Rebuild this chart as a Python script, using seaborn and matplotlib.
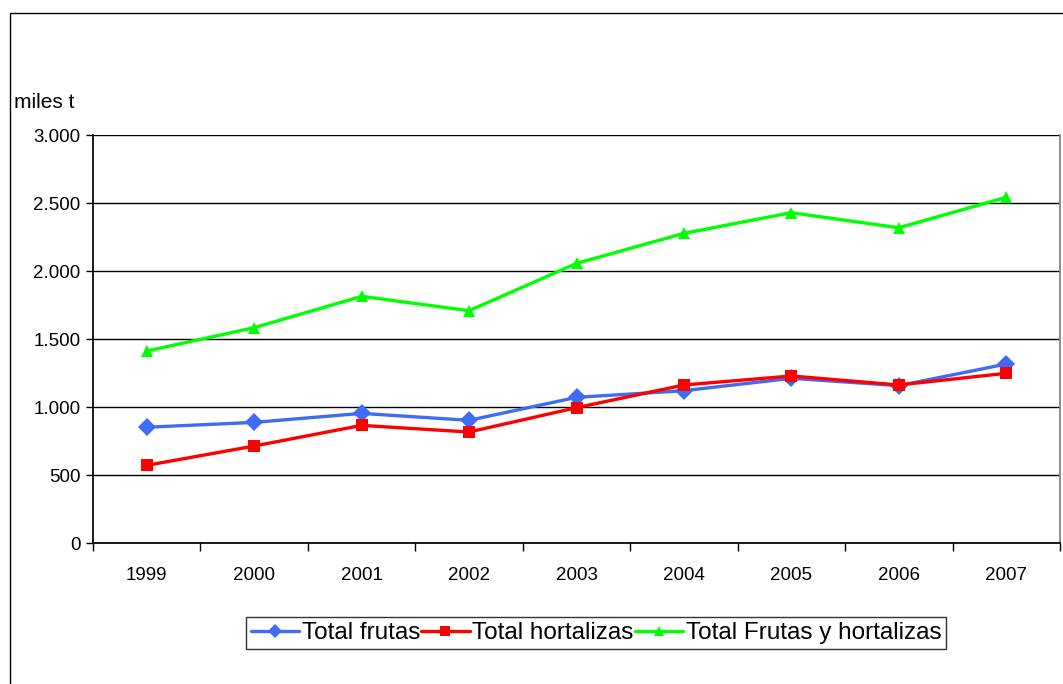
# Fruit and vegetable totals, 1999-2007 (miles t)
import numpy as np
import pandas as pd
import seaborn as sns
import matplotlib.pyplot as plt
from matplotlib.patches import Rectangle
from matplotlib.ticker import FuncFormatter

# Data
years = ["1999", "2000", "2001", "2002", "2003", "2004", "2005", "2006", "2007"]
total_frutas = [851, 887, 953, 902, 1071, 1120, 1211, 1157, 1316]
total_hortalizas = [571, 713, 865, 816, 995, 1162, 1228, 1162, 1248]
total_ambos = [1412, 1583, 1814, 1708, 2056, 2277, 2429, 2318, 2542]
series_names = ["Total frutas", "Total hortalizas", "Total Frutas y hortalizas"]

# Long dataframe for seaborn
df = pd.DataFrame({
    "pos": list(range(len(years))) * 3,
    "valor": total_frutas + total_hortalizas + total_ambos,
    "serie": np.repeat(series_names, len(years)),
})

sns.set_theme(style="white")
plt.rcParams["font.family"] = ["Liberation Sans", "DejaVu Sans"]
plt.rcParams["text.color"] = "black"
plt.rcParams["xtick.color"] = "black"
plt.rcParams["ytick.color"] = "black"

fig = plt.figure(figsize=(10.63, 6.84), dpi=100)
ax = fig.add_axes([93 / 1063, 1 - 543 / 684, (1060 - 93) / 1063, (543 - 135) / 684])

palette = {"Total frutas": "#3F6BF5", "Total hortalizas": "#FF0000",
           "Total Frutas y hortalizas": "#00FF00"}
markers = {"Total frutas": "D", "Total hortalizas": "s",
           "Total Frutas y hortalizas": "^"}
sns.lineplot(data=df, x="pos", y="valor", hue="serie", style="serie",
             palette=palette, markers=markers, dashes=False, linewidth=2.4,
             markersize=9, markeredgewidth=0, ax=ax)

# Axes styling
ax.set_xlim(-0.5, len(years) - 0.5)
ax.set_ylim(0, 3000)
ax.set_yticks(range(0, 3001, 500))
ax.yaxis.set_major_formatter(FuncFormatter(lambda v, p: f"{int(v):,}".replace(",", ".")))
ax.set_xticks(range(len(years)))
ax.set_xticklabels(years)
ax.set_xticks(np.arange(-0.5, len(years), 1), minor=True)
ax.tick_params(axis="x", which="major", length=0, pad=17, labelsize=13.5, labelcolor="black")
ax.tick_params(axis="x", which="minor", length=6, width=1, color="black", direction="out", bottom=True)
ax.tick_params(axis="y", length=5, width=1, color="black", direction="out", left=True,
               labelsize=13.5, pad=4, labelcolor="black")
ax.set_xlabel("")
ax.set_ylabel("")
ax.grid(axis="y", color="black", linewidth=1)
ax.set_axisbelow(True)
ax.spines["top"].set_visible(False)
ax.spines["left"].set_color("black")
ax.spines["bottom"].set_color("black")
ax.spines["right"].set_color("#808080")

# Legend below the plot
leg = ax.legend(loc="center", bbox_to_anchor=(596 / 1063, 1 - 633 / 684),
                bbox_transform=fig.transFigure, ncol=3, frameon=True, fancybox=False,
                edgecolor="black", fontsize=17.5, handlelength=2.0, handletextpad=0.1,
                columnspacing=0.05, borderpad=0.2, markerscale=0.75)
leg.get_frame().set_linewidth(1)
for t in leg.get_texts():
    t.set_color("black")

# Unit label and outer chart border
fig.text(14 / 1063, 1 - 103 / 684, "miles t", fontsize=15, va="center", ha="left", color="black")
fig.patches.append(Rectangle((10 / 1063, -0.05), 1.1, 1 - 13 / 684 + 0.05,
                             transform=fig.transFigure, fill=False,
                             edgecolor="black", linewidth=1))

fig.savefig("out.png", dpi=100)
